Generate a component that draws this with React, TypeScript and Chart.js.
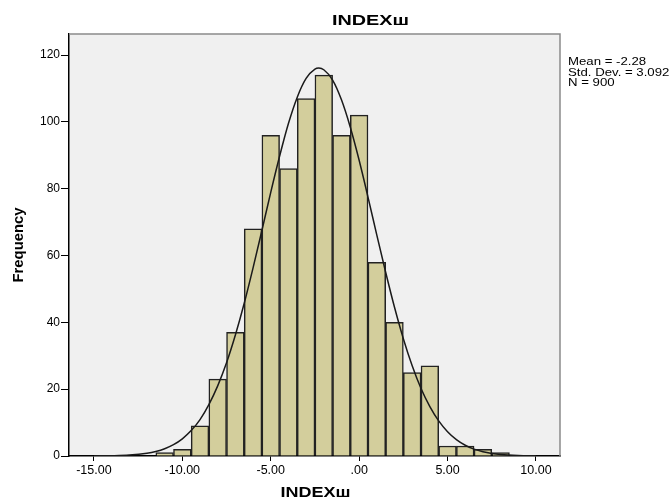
import React, { useEffect, useRef } from "react";
import { Chart, registerables } from "chart.js";

Chart.register(...registerables);

// Histogram bins (centers, width 1) and frequencies
const binCenters = [-11, -10, -9, -8, -7, -6, -5, -4, -3, -2, -1, 0, 1, 2, 3, 4, 5, 6, 7, 8];
const frequencies = [1, 2, 9, 23, 37, 68, 96, 86, 107, 114, 96, 102, 58, 40, 25, 27, 3, 3, 2, 1];

// Normal curve
const curveX = [-15, -14, -13, -12, -11.5, -11, -10.5, -10, -9.5, -9, -8.5, -8, -7.5, -7, -6.5, -6, -5.5, -5, -4.5, -4, -3.5, -3, -2.5, -2.28, -2, -1.5, -1, -0.5, 0, 0.5, 1, 1.5, 2, 2.5, 3, 3.5, 4, 4.5, 5, 5.5, 6, 6.5, 7, 7.5, 8, 9, 10];
const curveY = [0.02, 0.09, 0.28, 0.83, 1.36, 2.18, 3.39, 5.14, 7.6, 10.9, 15.4, 21.0, 27.9, 36.2, 45.7, 56.3, 67.5, 78.9, 89.7, 99.5, 107.4, 113.0, 115.8, 116.1, 115.6, 112.5, 106.6, 98.4, 88.5, 77.5, 66.1, 55.0, 44.5, 35.1, 27.0, 20.2, 14.8, 10.5, 7.26, 4.9, 3.22, 2.06, 1.28, 0.78, 0.46, 0.15, 0.04];

const titleText = "INDEXш";
const xTitle = "INDEXш";
const yTitle = "Frequency";
const statsLines = ["Mean = -2.28", "Std. Dev. = 3.092", "N = 900"];

const FONT = "'Liberation Sans', Arial, sans-serif";

function drawStretched(ctx: CanvasRenderingContext2D, text: string, x: number, y: number, font: string, sx: number, align: CanvasTextAlign, rot = 0) {
  ctx.save();
  ctx.translate(x, y);
  if (rot) ctx.rotate(rot);
  ctx.scale(sx, 1);
  ctx.font = font;
  ctx.textAlign = align;
  ctx.textBaseline = "middle";
  ctx.fillStyle = "#000";
  ctx.fillText(text, 0, 0);
  ctx.restore();
}

export default function App() {
  const ref = useRef<HTMLCanvasElement | null>(null);

  useEffect(() => {
    if (!ref.current) return;
    const decor = {
      id: "decor",
      beforeDraw(chart: any) {
        const { ctx, chartArea: a } = chart;
        ctx.save();
        ctx.fillStyle = "#F0F0F0";
        ctx.fillRect(a.left, a.top, a.right - a.left, a.bottom - a.top);
        ctx.restore();
      },
      afterDraw(chart: any) {
        const { ctx, chartArea: a, width } = chart;
        ctx.save();
        ctx.strokeStyle = "#8a8a8a";
        ctx.lineWidth = 1.5;
        ctx.beginPath();
        ctx.moveTo(a.left, a.top);
        ctx.lineTo(a.right, a.top);
        ctx.lineTo(a.right, a.bottom);
        ctx.stroke();
        ctx.restore();
        drawStretched(ctx, titleText, (a.left + width) / 2, 20.5, `bold 15px ${FONT}`, 1.32, "center");
        drawStretched(ctx, xTitle, (a.left + a.right) / 2 + 1, 493, `bold 15px ${FONT}`, 1.2, "center");
        drawStretched(ctx, yTitle, 19, (a.top + a.bottom) / 2, `bold 14px ${FONT}`, 1.06, "center", -Math.PI / 2);
        statsLines.forEach((s, i) => drawStretched(ctx, s, a.right + 8, 62 + i * 10.5, `11px ${FONT}`, 1.2, "left"));
      },
    };

    const chart = new Chart(ref.current, {
      type: "bar",
      data: {
        datasets: [
          {
            type: "line",
            data: curveX.map((x, i) => ({ x, y: curveY[i] })),
            borderColor: "#1a1a1a",
            borderWidth: 1.5,
            pointRadius: 0,
            tension: 0.4,
            cubicInterpolationMode: "monotone",
            fill: false,
          } as any,
          {
            type: "bar",
            data: binCenters.map((x, i) => ({ x, y: frequencies[i] })),
            backgroundColor: "#D3CE9C",
            borderColor: "#222222",
            borderWidth: 1.5,
            barPercentage: 1,
            categoryPercentage: 1,
          } as any,
        ],
      },
      options: {
        responsive: false,
        animation: false,
        devicePixelRatio: 1,
        layout: { padding: { top: 34, right: 112, left: 0, bottom: 0 } },
        plugins: { legend: { display: false }, tooltip: { enabled: false }, title: { display: false } },
        scales: {
          x: {
            type: "linear",
            min: -16.41,
            max: 11.36,
            offset: false,
            afterFit: (s: any) => { s.height = 44; },
            grid: { offset: false, drawOnChartArea: false, drawTicks: true, tickLength: 5, color: "#000" },
            border: { color: "#000", width: 1.5 },
            ticks: {
              stepSize: 5,
              includeBounds: false,
              color: "#000",
              font: { family: FONT, size: 12.5 },
              padding: 2,
              maxRotation: 0,
              callback: (v: any) => (v === 0 ? ".00" : Number(v).toFixed(2)),
            },
          },
          y: {
            min: 0,
            max: 126.3,
            afterFit: (s: any) => { s.width = 69; },
            grid: { drawOnChartArea: false, drawTicks: true, tickLength: 8, color: "#000" },
            border: { color: "#000", width: 1.5 },
            ticks: {
              stepSize: 20,
              includeBounds: false,
              color: "#000",
              font: { family: FONT, size: 12 },
              padding: 1,
            },
          },
        },
      },
      plugins: [decor],
    } as any);
    return () => chart.destroy();
  }, []);

  return (
    <div style={{ position: "absolute", left: 0, top: 0, width: 672, height: 500, background: "#fff" }}>
      <canvas ref={ref} width={672} height={500} />
    </div>
  );
}
